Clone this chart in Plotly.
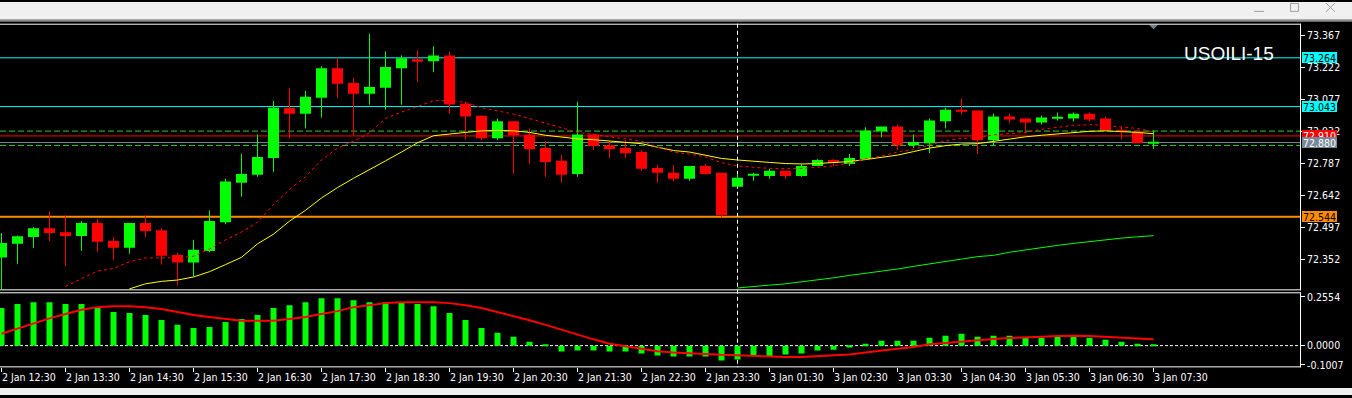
import plotly.graph_objects as go

# ---------------- data ----------------
time_labels = ["2 Jan 12:30", "2 Jan 13:30", "2 Jan 14:30", "2 Jan 15:30", "2 Jan 16:30",
               "2 Jan 17:30", "2 Jan 18:30", "2 Jan 19:30", "2 Jan 20:30", "2 Jan 21:30",
               "2 Jan 22:30", "2 Jan 23:30", "3 Jan 01:30", "3 Jan 02:30", "3 Jan 03:30",
               "3 Jan 04:30", "3 Jan 05:30", "3 Jan 06:30", "3 Jan 07:30"]
label_bars = [0, 4, 8, 12, 16, 20, 24, 28, 32, 36, 40, 44, 48, 52, 56, 60, 64, 68, 72]

opens = [72.359, 72.421, 72.452, 72.492, 72.474, 72.457, 72.515, 72.434, 72.403, 72.515,
         72.483, 72.371, 72.336, 72.389, 72.519, 72.698, 72.734, 72.810, 73.038, 73.011,
         73.083, 73.217, 73.150, 73.101, 73.128, 73.217, 73.257, 73.248, 73.275, 73.056,
         73.002, 72.899, 72.976, 72.917, 72.855, 72.797, 72.738, 72.917, 72.868, 72.855,
         72.837, 72.765, 72.743, 72.716, 72.774, 72.743, 72.680, 72.730, 72.729, 72.752,
         72.729, 72.774, 72.801, 72.783, 72.805, 72.931, 72.953, 72.868, 72.877, 72.976,
         73.029, 73.025, 72.891, 72.998, 72.989, 72.971, 72.992, 72.989, 73.011, 72.989,
         72.937, 72.931, 72.878]
highs = [72.470, 72.458, 72.497, 72.568, 72.551, 72.524, 72.533, 72.452, 72.515, 72.551,
         72.492, 72.380, 72.439, 72.573, 72.716, 72.828, 72.917, 73.069, 73.128, 73.114,
         73.226, 73.266, 73.172, 73.373, 73.293, 73.275, 73.298, 73.316, 73.293, 73.065,
         73.002, 72.989, 72.976, 72.944, 72.886, 72.823, 73.065, 72.920, 72.886, 72.891,
         72.846, 72.779, 72.779, 72.774, 72.783, 72.743, 72.734, 72.743, 72.761, 72.752,
         72.783, 72.805, 72.805, 72.828, 72.949, 72.953, 72.962, 72.917, 72.989, 73.038,
         73.079, 73.025, 73.011, 73.011, 72.989, 73.002, 73.016, 73.016, 73.016, 72.998,
         72.953, 72.931, 72.935]
lows = [72.216, 72.331, 72.403, 72.434, 72.322, 72.389, 72.385, 72.349, 72.376, 72.452,
        72.327, 72.233, 72.273, 72.383, 72.510, 72.635, 72.725, 72.747, 72.899, 72.944,
        72.993, 73.083, 72.913, 73.052, 73.029, 73.052, 73.155, 73.199, 73.011, 72.895,
        72.891, 72.891, 72.738, 72.783, 72.725, 72.698, 72.725, 72.846, 72.810, 72.810,
        72.752, 72.698, 72.703, 72.707, 72.734, 72.542, 72.680, 72.707, 72.716, 72.716,
        72.725, 72.774, 72.774, 72.774, 72.805, 72.904, 72.846, 72.855, 72.832, 72.944,
        73.007, 72.828, 72.868, 72.967, 72.922, 72.962, 72.980, 72.976, 72.976, 72.935,
        72.895, 72.877, 72.850]
closes = [72.425, 72.456, 72.492, 72.470, 72.457, 72.515, 72.430, 72.403, 72.515, 72.479,
          72.367, 72.336, 72.394, 72.524, 72.703, 72.738, 72.814, 73.038, 73.011, 73.087,
          73.217, 73.146, 73.101, 73.132, 73.222, 73.262, 73.248, 73.275, 73.052, 72.998,
          72.899, 72.976, 72.913, 72.850, 72.792, 72.734, 72.917, 72.864, 72.850, 72.832,
          72.761, 72.743, 72.716, 72.774, 72.738, 72.551, 72.720, 72.732, 72.752, 72.729,
          72.774, 72.801, 72.787, 72.810, 72.935, 72.953, 72.868, 72.882, 72.980, 73.029,
          73.020, 72.891, 72.998, 72.985, 72.971, 72.993, 72.994, 73.011, 72.985, 72.935,
          72.933, 72.877, 72.880]

ma_fast_start = 4
ma_fast = [72.228, 72.264, 72.298, 72.309, 72.340, 72.357, 72.358, 72.358, 72.365, 72.398,
           72.439, 72.474, 72.519, 72.600, 72.667, 72.725, 72.801, 72.855, 72.886, 72.924,
           72.989, 73.018, 73.043, 73.069, 73.072, 73.061, 73.038, 73.025, 73.009, 72.989,
           72.967, 72.946, 72.926, 72.917, 72.906, 72.895, 72.886, 72.859, 72.837, 72.828,
           72.815, 72.789, 72.774, 72.768, 72.763, 72.762, 72.763, 72.768, 72.774, 72.788,
           72.806, 72.819, 72.837, 72.850, 72.868, 72.888, 72.899, 72.902, 72.915, 72.922,
           72.926, 72.940, 72.949, 72.958, 72.961, 72.958, 72.950, 72.944, 72.928]
ma_slow_start = 8
ma_slow = [72.217, 72.240, 72.251, 72.257, 72.271, 72.295, 72.327, 72.360, 72.421, 72.465,
           72.524, 72.573, 72.629, 72.676, 72.718, 72.756, 72.797, 72.837, 72.879, 72.911,
           72.920, 72.926, 72.933, 72.935, 72.933, 72.926, 72.913, 72.904, 72.897, 72.893,
           72.888, 72.882, 72.875, 72.859, 72.844, 72.837, 72.823, 72.808, 72.801, 72.794,
           72.790, 72.785, 72.783, 72.785, 72.788, 72.794, 72.803, 72.814, 72.823, 72.839,
           72.855, 72.866, 72.873, 72.875, 72.886, 72.895, 72.906, 72.913, 72.920, 72.926,
           72.931, 72.933, 72.931, 72.926, 72.920]
ma_long_start = 46
ma_long = [72.221, 72.229, 72.234, 72.240, 72.248, 72.258, 72.267, 72.278, 72.287, 72.298,
           72.307, 72.319, 72.331, 72.342, 72.352, 72.363, 72.369, 72.383, 72.394, 72.404,
           72.414, 72.423, 72.432, 72.439, 72.447, 72.453, 72.458]

macd_hist = [0.197, 0.218, 0.228, 0.228, 0.218, 0.218, 0.197, 0.176, 0.171, 0.161,
             0.135, 0.109, 0.093, 0.098, 0.124, 0.140, 0.161, 0.197, 0.212, 0.228,
             0.249, 0.249, 0.238, 0.228, 0.228, 0.228, 0.218, 0.207, 0.171, 0.135,
             0.093, 0.067, 0.047, 0.021, 0.002, -0.031, -0.026, -0.026, -0.031, -0.031,
             -0.041, -0.052, -0.057, -0.057, -0.057, -0.078, -0.073, -0.052, -0.057, -0.047,
             -0.041, -0.026, -0.021, -0.010, 0.010, 0.026, 0.026, 0.026, 0.041, 0.052,
             0.062, 0.047, 0.052, 0.052, 0.041, 0.041, 0.047, 0.047, 0.041, 0.031,
             0.021, 0.010, 0.002]
macd_signal = [0.062, 0.090, 0.117, 0.143, 0.166, 0.188, 0.202, 0.207, 0.207, 0.202,
               0.192, 0.176, 0.161, 0.150, 0.140, 0.130, 0.130, 0.130, 0.140, 0.150,
               0.166, 0.181, 0.202, 0.212, 0.223, 0.228, 0.228, 0.228, 0.223, 0.212,
               0.197, 0.176, 0.157, 0.133, 0.109, 0.083, 0.057, 0.033, 0.010, -0.002,
               -0.016, -0.029, -0.036, -0.040, -0.047, -0.048, -0.050, -0.054, -0.057, -0.060,
               -0.060, -0.057, -0.054, -0.047, -0.036, -0.028, -0.017, -0.007, 0.007, 0.014,
               0.022, 0.029, 0.035, 0.040, 0.045, 0.047, 0.050, 0.052, 0.050, 0.047,
               0.043, 0.038, 0.033]

price_ticks = [73.367, 73.222, 73.077, 72.932, 72.787, 72.642, 72.497, 72.352]
macd_ticks = [0.2554, 0.0, -0.1007]
macd_tick_text = ["0.2554", "0.0000", "-0.1007"]

resistance_levels = [73.264, 73.043]
support_level = 72.544
ask_price = 72.910
bid_price = 72.880
band_levels = [72.932, 72.867]
separator_bar = 46
symbol_title = "USOILI-15"

# ---------------- geometry (pixels) ----------------
W, H = 1352, 398
PLOT_R = 1300
MAIN_TOP, MAIN_BOT = 22, 292
MACD_TOP, MACD_BOT = 294, 370
BAR_PX = 16.0
FIRST_BAR_PX = 1.5
PRICE_REF, PRICE_REF_PX, PX_PER_PRICE = 73.367, 33.5, 223.5
MACD_ZERO_PX, PX_PER_MACD = 348.0, 193.0

FONT = "Liberation Sans Narrow, Arial Narrow, DejaVu Sans Condensed, Liberation Sans, Arial, sans-serif"
FS = 10.5

def px(xp):
    return xp / W

def py(yp):
    return 1 - yp / H

x_range = [(0 - FIRST_BAR_PX) / BAR_PX, (PLOT_R - FIRST_BAR_PX) / BAR_PX]
y_range = [PRICE_REF - (MAIN_BOT - PRICE_REF_PX) / PX_PER_PRICE,
           PRICE_REF + (PRICE_REF_PX - MAIN_TOP) / PX_PER_PRICE]
y2_range = [-(MACD_BOT - MACD_ZERO_PX) / PX_PER_MACD, (MACD_ZERO_PX - MACD_TOP) / PX_PER_MACD]

GREEN = "#00ff00"
RED = "#ff0000"

fig = go.Figure()

# candle bodies
n = len(opens)
idx = list(range(n))
min_body = 1.0 / PX_PER_PRICE
bases = [min(o, c) for o, c in zip(opens, closes)]
heights = [max(abs(c - o), min_body) for o, c in zip(opens, closes)]
colors = [GREEN if c >= o else RED for o, c in zip(opens, closes)]

# wicks
for col in (GREEN, RED):
    wx, wy = [], []
    for i in idx:
        if colors[i] == col:
            wx += [i, i, None]
            wy += [lows[i], highs[i], None]
    fig.add_trace(go.Scatter(x=wx, y=wy, mode="lines", line=dict(color=col, width=1),
                             hoverinfo="skip", showlegend=False, xaxis="x", yaxis="y"))

fig.add_trace(go.Bar(x=idx, y=heights, base=bases, width=11 / BAR_PX,
                     marker=dict(color=colors, line=dict(width=0)),
                     hoverinfo="skip", showlegend=False, xaxis="x", yaxis="y"))

# moving averages
fig.add_trace(go.Scatter(x=list(range(ma_long_start, ma_long_start + len(ma_long))), y=ma_long,
                         mode="lines", line=dict(color=GREEN, width=1),
                         hoverinfo="skip", showlegend=False))
fig.add_trace(go.Scatter(x=list(range(ma_slow_start, ma_slow_start + len(ma_slow))), y=ma_slow,
                         mode="lines", line=dict(color="#ffff00", width=1),
                         hoverinfo="skip", showlegend=False))
fig.add_trace(go.Scatter(x=list(range(ma_fast_start, ma_fast_start + len(ma_fast))), y=ma_fast,
                         mode="lines", line=dict(color=RED, width=1, dash="3px,3px"),
                         hoverinfo="skip", showlegend=False))

# MACD
fig.add_trace(go.Bar(x=idx, y=macd_hist, width=6 / BAR_PX, marker=dict(color=GREEN, line=dict(width=0)),
                     hoverinfo="skip", showlegend=False, xaxis="x2", yaxis="y2"))
fig.add_trace(go.Scatter(x=idx, y=macd_signal, mode="lines", line=dict(color=RED, width=2),
                         hoverinfo="skip", showlegend=False, xaxis="x2", yaxis="y2"))

shapes = []
# window chrome
shapes.append(dict(type="rect", xref="paper", yref="paper", x0=0, x1=1, y0=py(0), y1=py(18),
                   fillcolor="#f0f0f0", line=dict(width=0)))
shapes.append(dict(type="rect", xref="paper", yref="paper", x0=0, x1=1, y0=py(18), y1=py(20),
                   fillcolor="#8a8a8a", line=dict(width=0)))
shapes.append(dict(type="rect", xref="paper", yref="paper", x0=0, x1=1, y0=py(391), y1=py(398),
                   fillcolor="#f0f0f0", line=dict(width=0)))
icon = dict(color="#a0a0a0", width=1)
shapes.append(dict(type="line", xref="paper", yref="paper", x0=px(1254), x1=px(1264), y0=py(9.5), y1=py(9.5), line=icon))
shapes.append(dict(type="rect", xref="paper", yref="paper", x0=px(1290.5), x1=px(1298.5), y0=py(1.5), y1=py(9.5), line=icon))
shapes.append(dict(type="line", xref="paper", yref="paper", x0=px(1326), x1=px(1335), y0=py(1), y1=py(10), line=icon))
shapes.append(dict(type="line", xref="paper", yref="paper", x0=px(1326), x1=px(1335), y0=py(10), y1=py(1), line=icon))
# shift marker triangle
shapes.append(dict(type="path", xref="paper", yref="paper",
                   path=f"M {px(1149)} {py(23)} L {px(1158)} {py(23)} L {px(1153.5)} {py(27.5)} Z",
                   fillcolor="#708090", line=dict(width=0)))

# pane borders
white = dict(color="#ffffff", width=1)
for yy in (MAIN_TOP + 0.5, MAIN_BOT - 0.5, MACD_TOP + 0.5, MACD_BOT - 0.5):
    shapes.append(dict(type="line", xref="paper", yref="paper", x0=0, x1=px(PLOT_R + 1), y0=py(yy), y1=py(yy), line=white))
for (t, b) in ((MAIN_TOP, MAIN_BOT), (MACD_TOP, MACD_BOT)):
    shapes.append(dict(type="line", xref="paper", yref="paper", x0=px(PLOT_R + 0.5), x1=px(PLOT_R + 0.5),
                       y0=py(t), y1=py(b), line=white))

# horizontal level lines
for lv in resistance_levels:
    shapes.append(dict(type="line", xref="paper", yref="y", x0=0, x1=px(PLOT_R), y0=lv, y1=lv,
                       line=dict(color="#00ffff", width=1), layer="below"))
shapes.append(dict(type="line", xref="paper", yref="y", x0=0, x1=px(PLOT_R), y0=support_level, y1=support_level,
                   line=dict(color="#ff8c00", width=2), layer="below"))
for lv in band_levels:
    shapes.append(dict(type="line", xref="paper", yref="y", x0=0, x1=px(PLOT_R), y0=lv, y1=lv,
                       line=dict(color="#32cd32", width=1, dash="6px,3px"), layer="below"))
shapes.append(dict(type="line", xref="paper", yref="y", x0=0, x1=px(PLOT_R), y0=ask_price, y1=ask_price,
                   line=dict(color=RED, width=1), layer="below"))
shapes.append(dict(type="line", xref="paper", yref="y", x0=0, x1=px(PLOT_R), y0=bid_price, y1=bid_price,
                   line=dict(color="#778899", width=1), layer="below"))
# MACD zero line
shapes.append(dict(type="line", xref="paper", yref="y2", x0=0, x1=px(PLOT_R), y0=0, y1=0,
                   line=dict(color="#ffffff", width=1, dash="3px,2px"), layer="below"))
# day separator
shapes.append(dict(type="line", xref="x", yref="paper", x0=separator_bar, x1=separator_bar,
                   y0=py(MAIN_TOP), y1=py(MACD_BOT), line=dict(color="#ffffff", width=1, dash="4px,3px"),
                   layer="below"))

annotations = []

def price_box(level, bg, fg):
    annotations.append(dict(xref="paper", x=px(PLOT_R + 2), xanchor="left", yref="y", y=level,
                            yanchor="middle", text=f"{level:.3f}", showarrow=False, bgcolor=bg,
                            font=dict(color=fg, size=FS, family=FONT), width=33, height=9,
                            borderpad=1, borderwidth=0, align="center"))

for lv in resistance_levels:
    price_box(lv, "#00ffff", "#000000")
price_box(ask_price, RED, "#ffffff")
price_box(bid_price, "#778899", "#ffffff")
price_box(support_level, "#ff8c00", "#000000")

annotations.append(dict(xref="paper", x=px(1182), xanchor="left", yref="paper", y=py(52), yanchor="middle",
                        text=symbol_title, showarrow=False,
                        font=dict(color="#ffffff", size=19, family="Liberation Sans, Arial, sans-serif")))

axis_common = dict(showgrid=False, zeroline=False, showline=False, fixedrange=True)

fig.update_layout(
    width=W, height=H, margin=dict(l=0, r=0, t=0, b=0, pad=0),
    paper_bgcolor="#000000", plot_bgcolor="#000000",
    showlegend=False, hovermode=False,
    font=dict(family=FONT, size=FS, color="#ffffff"),
    xaxis=dict(domain=[0, px(PLOT_R)], range=x_range, anchor="y", showticklabels=False, ticks="", **axis_common),
    yaxis=dict(domain=[py(MAIN_BOT), py(MAIN_TOP)], range=y_range, anchor="x", side="right",
               tickvals=price_ticks, ticktext=[f"{v:.3f}" for v in price_ticks],
               ticks="outside", ticklen=4, tickwidth=1, tickcolor="#ffffff",
               tickfont=dict(color="#ffffff", size=FS, family=FONT), **axis_common),
    xaxis2=dict(domain=[0, px(PLOT_R)], range=x_range, anchor="y2", matches="x",
                tickvals=label_bars, ticktext=time_labels, ticks="outside", ticklen=4, tickwidth=1,
                tickcolor="#ffffff", ticklabelposition="outside right",
                tickfont=dict(color="#ffffff", size=FS, family=FONT), **axis_common),
    yaxis2=dict(domain=[py(MACD_BOT), py(MACD_TOP)], range=y2_range, anchor="x2", side="right",
                tickvals=macd_ticks, ticktext=macd_tick_text,
                ticks="outside", ticklen=4, tickwidth=1, tickcolor="#ffffff",
                tickfont=dict(color="#ffffff", size=FS, family=FONT), **axis_common),
    shapes=shapes, annotations=annotations,
)

page_fix = ("document.documentElement.style.margin='0';document.body.style.margin='0';"
            "document.body.style.padding='0';document.body.style.overflow='hidden';"
            "document.body.style.background='#000000';")

fig.write_html("out.html", config={"displayModeBar": False}, post_script=page_fix)
